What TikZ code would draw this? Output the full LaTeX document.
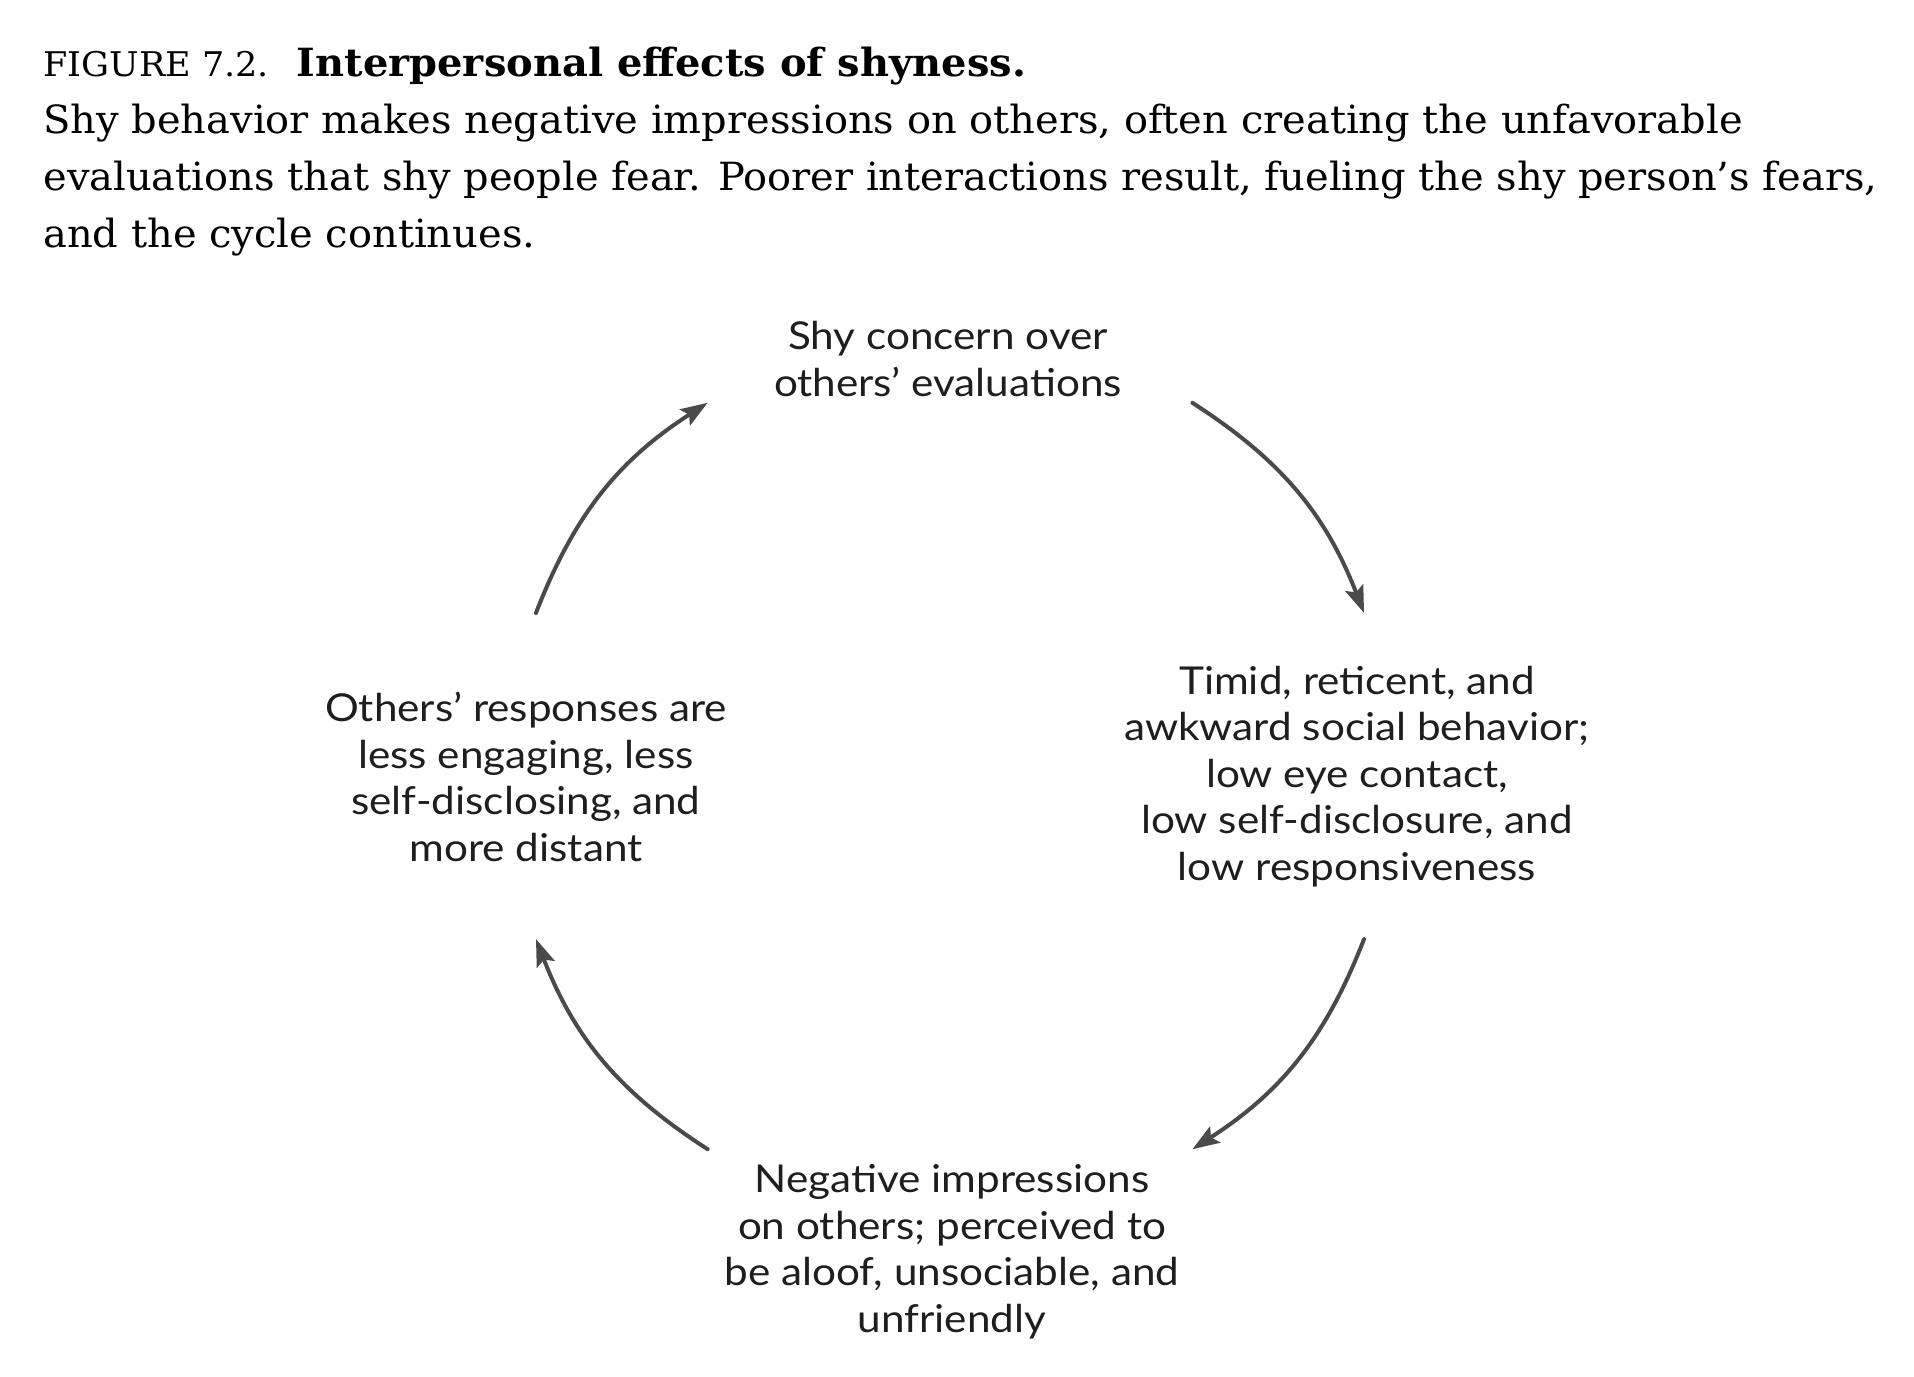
\documentclass[tikz,border=0pt]{standalone}
\usepackage{fontspec}
\setmainfont{DejaVu Serif}[FakeStretch=1.03]
\newfontfamily\diagfont{Lato}[FakeStretch=1.1]
\usetikzlibrary{arrows.meta,calc}
\usepackage{xcolor}

\definecolor{arrowgray}{HTML}{4A4A4A}
\definecolor{inkblack}{HTML}{1E1E1E}

\begin{document}
\begin{tikzpicture}[
    x=0.5bp, y=-0.5bp,
    caption/.style={anchor=base west, align=left, inner sep=0pt, text=black, font=\fontsize{19.4bp}{28.5bp}\selectfont},
    stage/.style={anchor=base, align=center, inner sep=0pt, text=inkblack, font=\diagfont\fontsize{19.2bp}{23.25bp}\selectfont},
    cyclearrow/.style={draw=arrowgray, line width=2bp, line cap=round, -{Stealth[length=13.5bp, width=9.5bp, inset=2.5bp]}}
]

% Canvas
\fill[white] (0,0) rectangle (1914,1376);
\useasboundingbox (0,0) rectangle (1914,1376);

% Caption (anchored at the baseline of its last line)
\node[caption] (caption) at (43,248) {{\fontsize{17bp}{28.5bp}\selectfont FIGURE 7.2.}\hspace{14bp}\textbf{Interpersonal effects of shyness.}\\
Shy behavior makes negative impressions on others, often creating the unfavorable\\
evaluations that shy people fear. Poorer interactions result, fueling the shy person’s fears,\\
and the cycle continues.};

% Stages of the cycle (anchored at the baseline of their last line)
\coordinate (hub) at (950,776);
\node[stage] (concern) at (948,396) {Shy concern over\\others’ evaluations};
\node[stage] (timid) at (1357,880) {Timid, reticent, and\\awkward social behavior;\\low eye contact,\\low self-disclosure, and\\low responsiveness};
\node[stage] (impress) at (952,1332) {Negative impressions\\on others; perceived to\\be aloof, unsociable, and\\unfriendly};
\node[stage] (responses) at (526,861) {Others’ responses are\\less engaging, less\\self-disclosing, and\\more distant};

% Arrow ends on the circle round the hub
\coordinate (c1s) at ($(hub)+(-57:445)$);
\coordinate (c1e) at ($(hub)+(-21.5:445)$);
\coordinate (c2s) at ($(hub)+(21.5:445)$);
\coordinate (c2e) at ($(hub)+(57:445)$);
\coordinate (c3s) at ($(hub)+(123:445)$);
\coordinate (c3e) at ($(hub)+(158.5:445)$);
\coordinate (c4s) at ($(hub)+(-158.5:445)$);
\coordinate (c4e) at ($(hub)+(-123:445)$);

% Arrows
\draw[cyclearrow] (c1s) to[bend left=18] (c1e);
\draw[cyclearrow] (c2s) to[bend left=18] (c2e);
\draw[cyclearrow] (c3s) to[bend left=18] (c3e);
\draw[cyclearrow] (c4s) to[bend left=18] (c4e);

\end{tikzpicture}
\end{document}
